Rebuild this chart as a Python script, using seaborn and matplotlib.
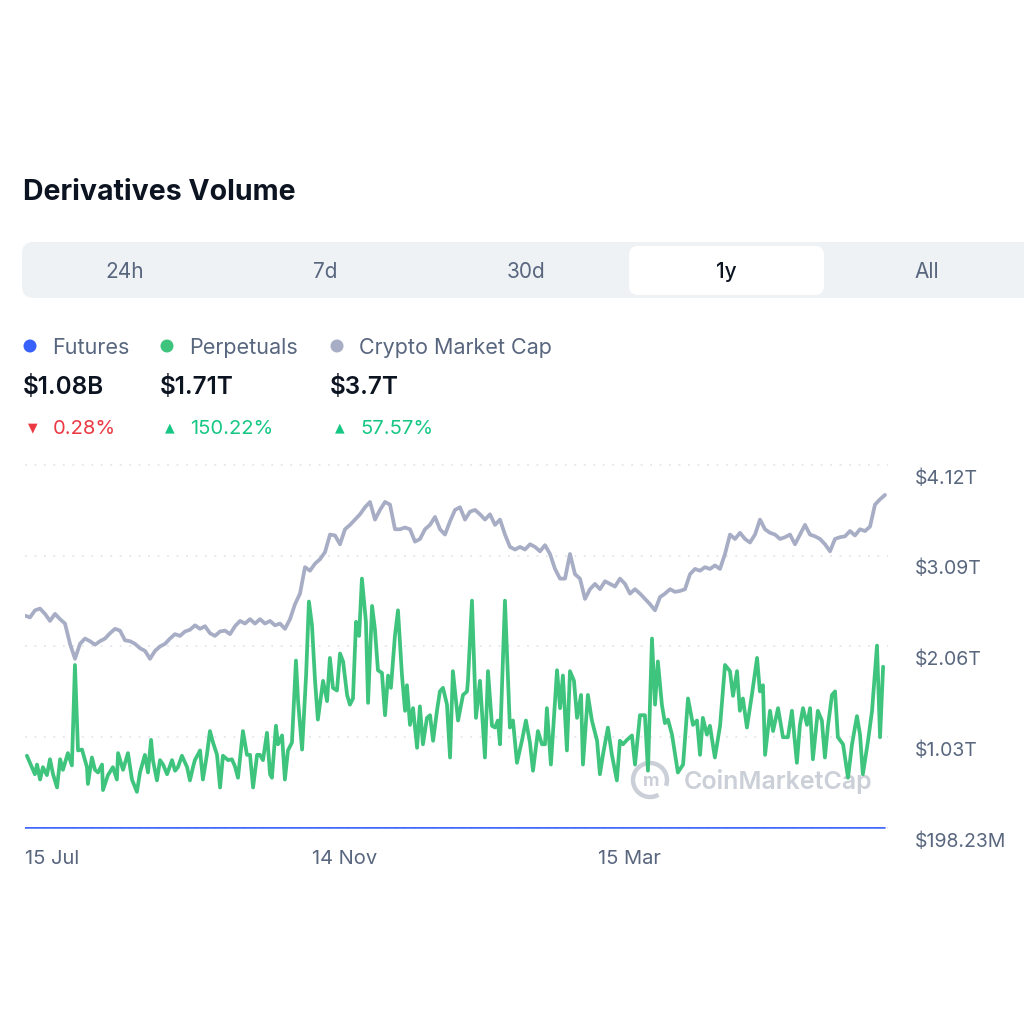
import numpy as np
import pandas as pd
import matplotlib.pyplot as plt
from matplotlib.patches import FancyBboxPatch, Circle, Arc
from matplotlib.transforms import ScaledTranslation
import seaborn as sns

W, H = 1024, 1024
START = pd.Timestamp('2024-07-15')

TEXT_GRAY = '#58667e'
TEXT_DARK = '#0d1421'
COLORS = ['#3861fb', '#3fc47e', '#a7adc4']
UP_GREEN = '#16c784'
DOWN_RED = '#ea3943'

tab_labels = ['24h', '7d', '30d', '1y', 'All']
selected_tab = '1y'
series_names = ['Futures', 'Perpetuals', 'Crypto Market Cap']
series_totals = ['$1.08B', '$1.71T', '$3.7T']
series_changes = ['0.28%', '150.22%', '57.57%']
series_up = [False, True, True]

ytick_vals = [0.0, 1.03, 2.06, 3.09, 4.12]
ytick_labels = ['$198.23M', '$1.03T', '$2.06T', '$3.09T', '$4.12T']
xtick_dates = ['2024-07-15', '2024-11-14', '2025-03-15']
xtick_labels = ['15 Jul', '14 Nov', '15 Mar']

# crypto market cap (trillions), about every 2 days over the year
mcap = [
    2.41, 2.39, 2.47, 2.49, 2.43, 2.35, 2.43, 2.37, 2.32, 2.09,
    1.92, 2.09, 2.15, 2.12, 2.08, 2.12, 2.15, 2.21, 2.26, 2.24,
    2.13, 2.12, 2.09, 2.04, 2.01, 1.92, 2.01, 2.06, 2.09, 2.15,
    2.20, 2.18, 2.23, 2.25, 2.30, 2.26, 2.29, 2.21, 2.18, 2.23,
    2.24, 2.20, 2.29, 2.35, 2.32, 2.37, 2.32, 2.37, 2.32, 2.35,
    2.30, 2.32, 2.26, 2.37, 2.54, 2.66, 2.96, 2.92, 3.00, 3.05,
    3.13, 3.33, 3.32, 3.22, 3.39, 3.44, 3.50, 3.56, 3.64, 3.70,
    3.50, 3.61, 3.70, 3.67, 3.39, 3.39, 3.41, 3.39, 3.25, 3.28,
    3.39, 3.44, 3.53, 3.39, 3.33, 3.48, 3.61, 3.64, 3.50, 3.59,
    3.61, 3.56, 3.50, 3.56, 3.44, 3.50, 3.33, 3.19, 3.16, 3.19,
    3.16, 3.22, 3.19, 3.14, 3.21, 3.11, 2.94, 2.83, 2.83, 3.11,
    2.88, 2.83, 2.60, 2.71, 2.77, 2.71, 2.80, 2.77, 2.74, 2.83,
    2.77, 2.66, 2.71, 2.66, 2.60, 2.54, 2.47, 2.62, 2.66, 2.71,
    2.68, 2.69, 2.71, 2.88, 2.94, 2.92, 2.96, 2.94, 2.98, 2.94,
    3.11, 3.33, 3.28, 3.35, 3.28, 3.24, 3.33, 3.50, 3.39, 3.35,
    3.33, 3.28, 3.30, 3.33, 3.22, 3.33, 3.44, 3.33, 3.31, 3.28,
    3.22, 3.14, 3.28, 3.30, 3.31, 3.37, 3.32, 3.39, 3.37, 3.42,
    3.67, 3.73, 3.78,
]

# perpetuals volume (trillions), day offset from 15 Jul
perp_days = [
    0.8, 2.1, 4.2, 5.1, 6.4, 7.6, 9.3, 10.6, 11.9, 13.6,
    14.9, 16.1, 18.2, 19.9, 21.2, 22.5, 24.2, 26.3, 26.7, 28.4,
    29.7, 31.0, 32.7, 33.1, 35.2, 37.3, 39.0, 39.5, 41.6, 43.7,
    45.4, 47.5, 48.8, 50.9, 52.2, 53.5, 54.3, 56.0, 57.3, 58.6,
    60.3, 62.4, 63.7, 64.9, 66.6, 68.8, 70.0, 71.3, 72.1, 74.3,
    75.5, 77.2, 78.5, 79.8, 81.5, 82.8, 84.0, 86.2, 87.8, 89.1,
    90.4, 92.5, 94.2, 95.5, 96.8, 98.5, 99.7, 101.0, 102.7, 104.0,
    104.8, 106.5, 107.4, 109.1, 110.3, 111.6, 113.3, 115.0, 115.9, 117.6,
    119.3, 120.5, 121.8, 123.1, 124.3, 126.5, 128.2, 129.4, 130.7, 132.4,
    133.7, 135.0, 136.7, 137.9, 139.2, 140.5, 141.8, 143.0, 144.7, 145.6,
    147.3, 148.5, 149.8, 151.5, 152.8, 154.1, 155.3, 157.0, 158.3, 160.0,
    161.3, 162.1, 163.4, 164.7, 166.4, 167.6, 168.9, 170.6, 171.9, 173.2,
    174.9, 176.1, 177.4, 179.1, 180.4, 181.6, 183.8, 185.9, 187.6, 188.0,
    189.7, 191.4, 193.1, 194.4, 195.2, 196.5, 198.2, 199.5, 200.7, 201.6,
    203.7, 205.8, 207.1, 208.8, 210.9, 212.6, 214.3, 215.6, 217.7, 219.4,
    220.7, 221.5, 223.2, 225.8, 227.1, 228.3, 230.0, 231.3, 233.0, 234.3,
    236.0, 236.8, 238.9, 240.6, 242.8, 244.0, 245.3, 247.4, 249.1, 251.2,
    252.5, 253.8, 255.5, 257.6, 258.9, 261.0, 263.1, 264.4, 266.1, 267.4,
    268.6, 270.3, 271.6, 272.9, 274.6, 277.1, 279.3, 281.4, 283.5, 285.2,
    286.5, 287.7, 289.4, 290.7, 292.8, 295.0, 297.1, 299.2, 300.5, 302.2,
    303.4, 304.7, 306.4, 308.5, 310.7, 311.9, 313.2, 314.1, 316.2, 317.5,
    319.6, 321.7, 323.8, 325.5, 327.6, 328.9, 330.2, 331.9, 333.2, 334.4,
    336.5, 338.2, 339.5, 340.8, 342.5, 343.8, 345.0, 347.2, 349.3, 351.0,
    353.1, 354.4, 355.6, 357.8, 359.5, 361.6, 362.9, 364.2,
]
perp = [
    0.82, 0.74, 0.61, 0.72, 0.55, 0.69, 0.60, 0.78, 0.61, 0.46,
    0.78, 0.66, 0.85, 0.71, 1.85, 0.88, 0.89, 0.69, 0.50, 0.80,
    0.66, 0.63, 0.72, 0.43, 0.60, 0.69, 0.55, 0.85, 0.66, 0.85,
    0.55, 0.41, 0.63, 0.83, 0.63, 1.00, 0.77, 0.54, 0.77, 0.72,
    0.61, 0.77, 0.65, 0.69, 0.82, 0.69, 0.54, 0.69, 0.77, 0.88,
    0.55, 0.83, 1.10, 0.97, 0.83, 0.46, 0.82, 0.77, 0.78, 0.70,
    0.57, 1.10, 0.83, 0.83, 0.46, 0.83, 0.83, 0.77, 1.08, 0.61,
    0.57, 1.16, 0.95, 1.05, 0.55, 0.88, 0.97, 1.90, 1.44, 0.89,
    1.73, 2.57, 2.30, 1.67, 1.23, 1.67, 1.44, 1.93, 1.59, 1.56,
    1.98, 1.89, 1.51, 1.40, 1.47, 2.34, 2.18, 2.83, 2.34, 1.42,
    2.52, 2.26, 1.79, 1.76, 1.28, 1.73, 1.59, 2.18, 2.47, 1.73,
    1.33, 1.62, 1.17, 1.36, 0.91, 1.38, 0.95, 1.25, 1.28, 0.99,
    1.34, 1.55, 1.59, 1.40, 0.80, 1.78, 1.22, 1.51, 1.55, 1.67,
    2.58, 1.25, 1.67, 1.14, 0.80, 1.78, 1.16, 1.14, 1.22, 0.95,
    2.58, 1.14, 1.22, 0.74, 0.99, 1.22, 0.97, 0.65, 1.10, 0.95,
    0.95, 1.36, 0.72, 1.79, 1.36, 1.73, 0.88, 1.78, 1.67, 1.25,
    1.51, 0.72, 1.51, 1.22, 0.99, 0.61, 0.83, 1.14, 0.83, 0.54,
    0.99, 0.95, 1.00, 1.05, 0.72, 1.28, 1.28, 0.65, 2.15, 1.40,
    1.89, 1.40, 1.19, 1.23, 1.06, 0.63, 0.72, 1.47, 1.17, 1.22,
    0.83, 1.25, 1.06, 1.16, 0.80, 1.16, 1.85, 1.78, 1.50, 1.78,
    1.33, 1.47, 1.14, 1.51, 1.93, 1.55, 1.62, 0.83, 1.33, 1.10,
    1.36, 1.03, 1.03, 1.33, 0.74, 1.17, 1.36, 1.17, 1.36, 0.78,
    1.33, 1.22, 0.80, 1.16, 1.51, 1.55, 1.03, 0.95, 0.57, 0.95,
    1.27, 1.06, 0.61, 0.99, 1.33, 2.07, 1.03, 1.83,
]

# futures volume (billions), roughly monthly - flat at the bottom
futures_b = [1.05, 1.12, 0.98, 1.10, 1.30, 1.22, 1.15, 1.02, 0.95, 1.00, 1.06, 1.10, 1.08]


def px(x, y):
    return x / W, 1 - y / H


sns.set_theme(style='white')
plt.rcParams['font.family'] = ['Inter', 'DejaVu Sans']

fig = plt.figure(figsize=(W / 100, H / 100), dpi=100)
fig.patch.set_facecolor('white')

# title
fig.text(*px(23, 192), 'Derivatives Volume', fontsize=20.5, fontweight='bold',
         color=TEXT_DARK, ha='left', va='center')

# time range tabs
x0, y0 = px(22, 298)
fig.patches.append(FancyBboxPatch((x0, y0), 1.2, 56 / H, boxstyle='round,pad=0,rounding_size=0.011',
                                  transform=fig.transFigure, facecolor='#eff2f5', edgecolor='none'))
x0, y0 = px(629, 295)
fig.patches.append(FancyBboxPatch((x0, y0), 195 / W, 49 / H, boxstyle='round,pad=0,rounding_size=0.009',
                                  transform=fig.transFigure, facecolor='white', edgecolor='none'))
for i, lab in enumerate(tab_labels):
    sel = lab == selected_tab
    fig.text(*px(125 + i * 200.5, 272), lab, fontsize=15, ha='center', va='center',
             color=TEXT_DARK if sel else TEXT_GRAY, fontweight='medium' if sel else 'normal')

# legend row with totals and changes
legend_x = [23, 160, 330]
for i, name in enumerate(series_names):
    lx = legend_x[i]
    fig.patches.append(Circle(px(lx + 7, 346), 6.5 / W, transform=fig.transFigure,
                              facecolor=COLORS[i], edgecolor='none'))
    fig.text(*px(lx + 29, 348), name, fontsize=15.5, color=TEXT_GRAY, ha='left', va='center')
    fig.text(*px(lx, 387), series_totals[i], fontsize=17.5, fontweight='semibold',
             color=TEXT_DARK, ha='left', va='center')
    col = UP_GREEN if series_up[i] else DOWN_RED
    fig.text(*px(lx + 10, 428), '▲' if series_up[i] else '▼', fontsize=9, color=col,
             ha='center', va='center', family='DejaVu Sans')
    fig.text(*px(lx + 30, 429), series_changes[i], fontsize=14.5, color=col, ha='left', va='center')

# chart
ax_left, ax_right = 25, 888
ax_top, ax_bottom = 453.5, 832.4
ax = fig.add_axes([ax_left / W, 1 - ax_bottom / H, (ax_right - ax_left) / W, (ax_bottom - ax_top) / H])

mcap_df = pd.DataFrame({'date': START + pd.to_timedelta(np.linspace(0, 365, len(mcap)), unit='D'),
                        'value': mcap})
perp_df = pd.DataFrame({'date': START + pd.to_timedelta(perp_days, unit='D'), 'value': perp})
fut_df = pd.DataFrame({'date': START + pd.to_timedelta(np.linspace(0, 365, len(futures_b)), unit='D'),
                       'value': np.array(futures_b) / 1000})

sns.lineplot(data=mcap_df, x='date', y='value', ax=ax, color=COLORS[2], linewidth=2.7,
             estimator=None, sort=False, zorder=3)
sns.lineplot(data=perp_df, x='date', y='value', ax=ax, color=COLORS[1], linewidth=2.7,
             estimator=None, sort=False, zorder=4)
sns.lineplot(data=fut_df, x='date', y='value', ax=ax, color=COLORS[0], linewidth=1.2,
             estimator=None, sort=False, zorder=5)

ax.set_xlim(START, START + pd.Timedelta(days=365 * (ax_right - ax_left) / 860))
ax.set_ylim(-0.05, 4.25)
ax.set_xlabel('')
ax.set_ylabel('')
for s in ax.spines.values():
    s.set_visible(False)

ax.set_yticks(ytick_vals)
ax.set_yticklabels(ytick_labels)
ax.yaxis.tick_right()
ax.yaxis.grid(True, color='#dfe2e7', linestyle=(0, (1.2, 5)), linewidth=1.1)
ax.xaxis.grid(False)
ax.tick_params(axis='y', length=0, pad=19, labelsize=14, labelcolor=TEXT_GRAY)
ax.tick_params(axis='x', length=0, pad=13, labelsize=14.5, labelcolor=TEXT_GRAY)
for lab in ax.get_yticklabels():
    lab.set_verticalalignment('top')
    lab.set_transform(lab.get_transform() + ScaledTranslation(0, -3 / 72, fig.dpi_scale_trans))

ax.set_xticks(pd.to_datetime(xtick_dates))
ax.set_xticklabels(xtick_labels)
for lab in ax.get_xticklabels():
    lab.set_horizontalalignment('left')

# watermark
wm = '#c2c7d0'
ax.add_patch(Arc(px(650, 780), 34 / W, 34 / H, theta1=-20, theta2=300, transform=fig.transFigure,
                 color=wm, lw=3.2, alpha=0.85, zorder=1, clip_on=False))
ax.text(*px(651, 782), 'm', transform=fig.transFigure, fontsize=13, fontweight='bold',
        color=wm, alpha=0.85, ha='center', va='center', zorder=1)
ax.text(*px(684, 782), 'CoinMarketCap', transform=fig.transFigure, fontsize=18,
        fontweight='semibold', color=wm, alpha=0.85, ha='left', va='center', zorder=1)

fig.savefig('out.png', dpi=100, facecolor='white')
